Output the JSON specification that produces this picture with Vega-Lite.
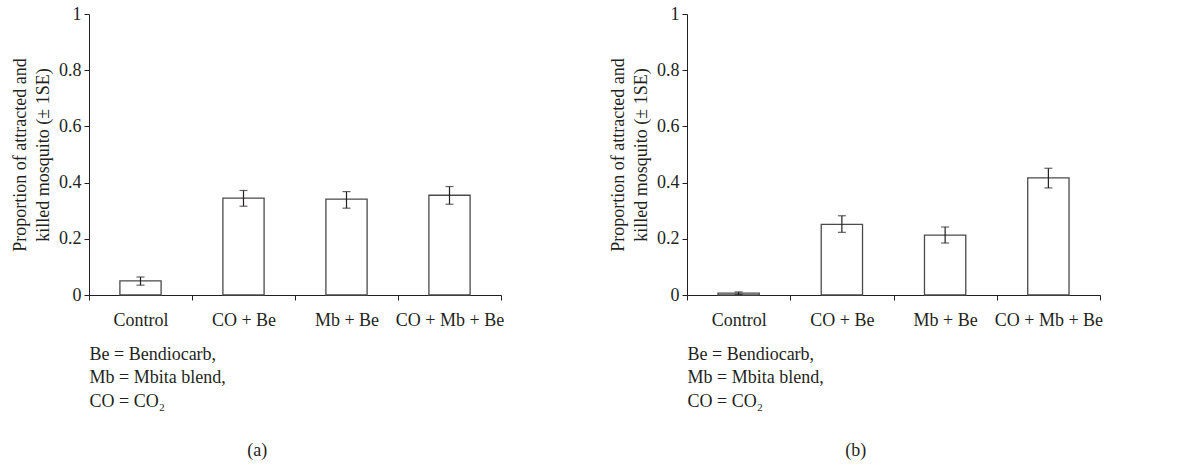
{
  "$schema": "https://vega.github.io/schema/vega-lite/v6.json",
  "padding": {"left": 11, "top": 5, "right": 5, "bottom": 5},
  "config": {
    "font": "Liberation Serif",
    "view": {"stroke": null},
    "axis": {
      "labelFont": "Liberation Serif",
      "titleFont": "Liberation Serif",
      "labelFontSize": 18,
      "titleFontSize": 18,
      "titleFontWeight": "normal",
      "labelColor": "#231f20",
      "titleColor": "#231f20",
      "domainColor": "#231f20",
      "tickColor": "#231f20",
      "grid": false,
      "tickSize": 5,
      "titleLineHeight": 23.5
    },
    "title": {
      "font": "Liberation Serif",
      "fontSize": 18,
      "fontWeight": "normal",
      "color": "#231f20",
      "orient": "bottom",
      "frame": "bounds",
      "anchor": "middle",
      "offset": 32
    },
    "concat": {"spacing": 105}
  },
  "datasets": {
    "a": [
      {"treatment": "Control", "mean": 0.05, "lo": 0.035, "hi": 0.064},
      {"treatment": "CO + Be", "mean": 0.345, "lo": 0.316, "hi": 0.372},
      {"treatment": "Mb + Be", "mean": 0.341, "lo": 0.309, "hi": 0.368},
      {"treatment": "CO + Mb + Be", "mean": 0.355, "lo": 0.323, "hi": 0.386}
    ],
    "b": [
      {"treatment": "Control", "mean": 0.007, "lo": 0.002, "hi": 0.011},
      {"treatment": "CO + Be", "mean": 0.251, "lo": 0.223, "hi": 0.282},
      {"treatment": "Mb + Be", "mean": 0.213, "lo": 0.185, "hi": 0.242},
      {"treatment": "CO + Mb + Be", "mean": 0.417, "lo": 0.381, "hi": 0.451}
    ]
  },
  "hconcat": [
    {
      "width": 412,
      "height": 281,
      "title": {"text": "(a)"},
      "data": {"name": "a"},
      "encoding": {
        "x": {
          "field": "treatment",
          "type": "nominal",
          "sort": ["Control", "CO + Be", "Mb + Be", "CO + Mb + Be"],
          "scale": {"paddingInner": 0, "paddingOuter": 0},
          "axis": {
            "labelAngle": 0,
            "tickBand": "extent",
            "labelPadding": 11,
            "title": ["Be = Bendiocarb,", "Mb = Mbita blend,", "CO = CO₂"],
            "titleAnchor": "start",
            "titleAlign": "left",
            "titlePadding": 16
          }
        }
      },
      "layer": [
        {
          "mark": {"type": "bar", "width": {"band": 0.4}, "fill": "white", "stroke": "#4a4a4a", "strokeWidth": 1.3},
          "encoding": {
            "y": {
              "field": "mean",
              "type": "quantitative",
              "title": ["Proportion of attracted and", "killed mosquito (± 1SE)"],
              "scale": {"domain": [0, 1]},
              "axis": {"values": [0, 0.2, 0.4, 0.6, 0.8, 1], "format": ".1~f", "labelPadding": 3, "titlePadding": 6}
            }
          }
        },
        {
          "mark": {"type": "rule", "color": "#231f20", "strokeWidth": 1.2},
          "encoding": {
            "y": {"field": "lo", "type": "quantitative", "title": ["Proportion of attracted and", "killed mosquito (± 1SE)"]},
            "y2": {"field": "hi"}
          }
        },
        {
          "mark": {"type": "tick", "color": "#231f20", "size": 8, "thickness": 1.2},
          "encoding": {"y": {"field": "lo", "type": "quantitative", "title": ["Proportion of attracted and", "killed mosquito (± 1SE)"]}}
        },
        {
          "mark": {"type": "tick", "color": "#231f20", "size": 8, "thickness": 1.2},
          "encoding": {"y": {"field": "hi", "type": "quantitative", "title": ["Proportion of attracted and", "killed mosquito (± 1SE)"]}}
        }
      ]
    },
    {
      "width": 413,
      "height": 281,
      "title": {"text": "(b)"},
      "data": {"name": "b"},
      "encoding": {
        "x": {
          "field": "treatment",
          "type": "nominal",
          "sort": ["Control", "CO + Be", "Mb + Be", "CO + Mb + Be"],
          "scale": {"paddingInner": 0, "paddingOuter": 0},
          "axis": {
            "labelAngle": 0,
            "tickBand": "extent",
            "labelPadding": 11,
            "title": ["Be = Bendiocarb,", "Mb = Mbita blend,", "CO = CO₂"],
            "titleAnchor": "start",
            "titleAlign": "left",
            "titlePadding": 16
          }
        }
      },
      "layer": [
        {
          "mark": {"type": "bar", "width": {"band": 0.4}, "fill": "white", "stroke": "#4a4a4a", "strokeWidth": 1.3},
          "encoding": {
            "y": {
              "field": "mean",
              "type": "quantitative",
              "title": ["Proportion of attracted and", "killed mosquito (± 1SE)"],
              "scale": {"domain": [0, 1]},
              "axis": {"values": [0, 0.2, 0.4, 0.6, 0.8, 1], "format": ".1~f", "labelPadding": 3, "titlePadding": 6}
            }
          }
        },
        {
          "mark": {"type": "rule", "color": "#231f20", "strokeWidth": 1.2},
          "encoding": {
            "y": {"field": "lo", "type": "quantitative", "title": ["Proportion of attracted and", "killed mosquito (± 1SE)"]},
            "y2": {"field": "hi"}
          }
        },
        {
          "mark": {"type": "tick", "color": "#231f20", "size": 8, "thickness": 1.2},
          "encoding": {"y": {"field": "lo", "type": "quantitative", "title": ["Proportion of attracted and", "killed mosquito (± 1SE)"]}}
        },
        {
          "mark": {"type": "tick", "color": "#231f20", "size": 8, "thickness": 1.2},
          "encoding": {"y": {"field": "hi", "type": "quantitative", "title": ["Proportion of attracted and", "killed mosquito (± 1SE)"]}}
        }
      ]
    }
  ]
}
